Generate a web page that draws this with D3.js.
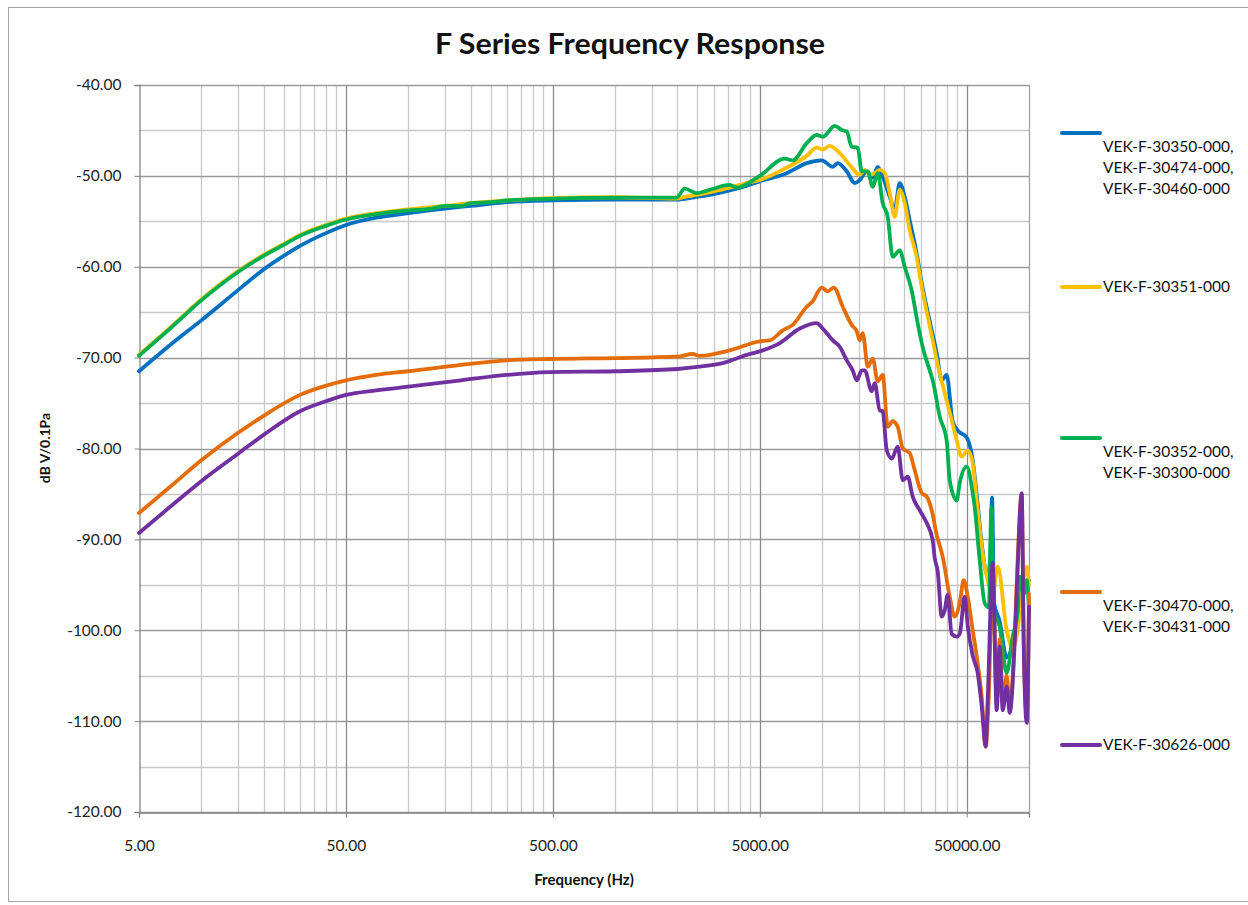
<!DOCTYPE html>
<html><head><meta charset="utf-8">
<script src="https://cdn.jsdelivr.net/npm/d3@7"></script>
<style>body{margin:0;background:#fff}svg{display:block}text{font-family:Lato,"Open Sans",sans-serif}</style>
</head><body>
<script>
const seriesNames = [
  ["VEK-F-30350-000,","VEK-F-30474-000,","VEK-F-30460-000"],
  ["VEK-F-30351-000"],
  ["VEK-F-30352-000,","VEK-F-30300-000"],
  ["VEK-F-30470-000,","VEK-F-30431-000"],
  ["VEK-F-30626-000"]
];
const seriesColors = ["#0070C0","#FFC000","#00B050","#E46C0A","#7030A0"];
const yTicks = [-40,-50,-60,-70,-80,-90,-100,-110,-120];
const xTicks = [5,50,500,5000,50000];

const blue = [[5,-71.5],[7,-68.7],[10,-65.9],[15,-62.6],[20,-60.3],[25,-58.8],[30,-57.7],[40,-56.3],[50,-55.4],[70,-54.6],[100,-54.1],[150,-53.6],[200,-53.3],[300,-52.9],[500,-52.7],[1000,-52.6],[1980,-52.6],[2480,-52.3],[3000,-52.0],[3580,-51.6],[4300,-51.1],[5000,-50.6],[6745,-49.7],[8430,-48.6],[9964,-48.3],[11265,-49.0],[11905,-48.6],[13160,-49.5],[14385,-50.8],[15205,-50.45],[16445,-49.5],[17580,-50.2],[18575,-49.0],[19635,-50.1],[21230,-52.3],[22435,-53.75],[23710,-50.8],[25085,-52.3],[26515,-54.9],[28640,-58.5],[30310,-61.8],[32405,-65.0],[34255,-67.5],[35805,-69.5],[37840,-72.5],[40000,-71.9],[42750,-77.0],[45230,-78.0],[50000,-78.8],[53450,-81.3],[55850,-85.0],[59100,-90.5],[63140,-94.0],[65000,-92.0],[66300,-85.4],[67800,-97.0],[72150,-99.0],[78000,-103.0],[83410,-101.5],[90160,-96.0],[100000,-94.5]];

const yellow = [[5,-69.7],[7,-66.8],[10,-63.6],[15,-60.5],[20,-58.7],[25,-57.5],[30,-56.5],[40,-55.4],[50,-54.7],[70,-54.1],[100,-53.7],[150,-53.3],[200,-53.0],[300,-52.7],[500,-52.45],[1000,-52.35],[1980,-52.5],[2170,-52.3],[2480,-52.1],[3000,-51.7],[3580,-51.3],[4300,-50.8],[5000,-50.45],[6745,-49.1],[8430,-47.8],[9420,-46.9],[10075,-47.1],[10890,-46.7],[12175,-47.5],[13610,-48.8],[15205,-49.9],[16075,-49.35],[17000,-49.9],[17970,-49.7],[18995,-49.35],[20090,-49.7],[21230,-51.9],[22435,-54.5],[23710,-51.55],[25085,-53.0],[26515,-56.0],[28640,-58.9],[30310,-62.2],[32405,-65.5],[34255,-68.1],[35805,-70.3],[39150,-73.9],[42320,-76.9],[44735,-79.1],[47290,-80.9],[50560,-80.2],[53450,-81.6],[55850,-85.7],[59100,-90.8],[63140,-94.5],[66800,-96.0],[70570,-93.0],[78000,-100.0],[83410,-101.9],[88200,-100.0],[92200,-96.0],[97500,-93.0],[100000,-95.0]];

const green = [[5,-69.8],[7,-66.9],[10,-63.7],[15,-60.6],[20,-58.8],[25,-57.6],[30,-56.6],[40,-55.5],[50,-54.8],[70,-54.2],[100,-53.8],[130,-53.6],[150,-53.3],[180,-53.3],[200,-53.0],[250,-52.9],[300,-52.7],[500,-52.5],[1000,-52.4],[1500,-52.4],[1980,-52.4],[2170,-51.4],[2480,-51.9],[2800,-51.6],[3580,-51.0],[3870,-51.3],[5000,-50.0],[6600,-48.1],[7210,-48.3],[8430,-46.4],[9420,-45.5],[10075,-45.7],[11515,-44.5],[12445,-44.95],[13160,-45.1],[13900,-46.8],[14875,-46.9],[15550,-49.5],[16625,-49.5],[17580,-51.2],[18575,-49.7],[19635,-53.0],[20750,-54.5],[21950,-58.9],[23710,-58.2],[25085,-60.0],[27100,-62.6],[28970,-66.2],[30620,-68.8],[33110,-71.4],[34255,-72.5],[37030,-76.5],[40000,-79.1],[41385,-83.5],[44735,-85.7],[46250,-83.8],[50000,-82.0],[53450,-84.9],[54610,-86.4],[57790,-92.3],[61050,-97.0],[64000,-97.5],[65800,-86.5],[67500,-98.0],[72150,-99.6],[78000,-104.7],[83410,-100.7],[88200,-98.0],[90160,-94.1],[94300,-96.0],[97500,-94.5],[100000,-98.0]];

const orange = [[5,-87.1],[7,-84.3],[10,-81.3],[15,-78.3],[20,-76.4],[30,-74.1],[40,-73.1],[50,-72.5],[70,-71.9],[100,-71.5],[180,-70.8],[300,-70.3],[480,-70.15],[1000,-70.05],[2000,-69.9],[2370,-69.6],[2560,-69.8],[3580,-69.2],[5000,-68.2],[5585,-68.1],[6456,-67.0],[7211,-66.4],[8434,-64.4],[9015,-63.8],[9964,-62.3],[10655,-62.7],[11390,-62.3],[12590,-64.4],[13900,-66.4],[14710,-67.1],[15205,-68.1],[15725,-67.3],[16625,-71.0],[17580,-70.1],[18575,-72.6],[19635,-71.9],[20750,-77.6],[21950,-77.0],[23210,-77.6],[24545,-80.0],[26515,-80.5],[28045,-82.4],[30310,-84.9],[32050,-85.3],[33880,-86.8],[35805,-89.5],[38280,-91.9],[41385,-96.3],[43750,-98.5],[46250,-97.0],[48360,-94.5],[50560,-96.3],[53450,-100.0],[56490,-103.6],[59100,-107.3],[61740,-112.8],[63830,-107.7],[66800,-93.5],[69800,-108.0],[72150,-101.0],[74650,-108.0],[78000,-105.0],[80670,-108.5],[85300,-100.5],[88200,-92.0],[92200,-85.0],[94300,-101.0],[97500,-109.5],[100000,-96.0]];

const purple = [[5,-89.3],[7,-86.5],[10,-83.6],[15,-80.6],[20,-78.5],[30,-75.9],[40,-74.8],[50,-74.1],[70,-73.6],[100,-73.2],[180,-72.5],[300,-71.9],[480,-71.6],[1000,-71.5],[2000,-71.25],[2560,-71.0],[3310,-70.6],[4325,-69.7],[5168,-69.2],[6250,-68.4],[7800,-66.8],[9420,-66.2],[10075,-66.8],[11265,-68.1],[12175,-68.8],[13160,-70.3],[14060,-71.4],[14710,-72.5],[15550,-71.4],[16075,-71.4],[17375,-73.7],[17970,-72.8],[18995,-75.8],[19635,-75.9],[20535,-80.2],[21710,-81.1],[23210,-79.8],[24545,-83.5],[25940,-83.1],[27415,-85.3],[29645,-86.8],[32050,-88.2],[34255,-90.1],[34990,-92.0],[36200,-93.5],[37840,-98.5],[39150,-97.8],[40450,-96.1],[42320,-100.4],[44735,-100.7],[46250,-100.4],[48900,-96.3],[50560,-99.5],[53450,-102.8],[56490,-104.7],[59100,-108.4],[61740,-112.8],[63140,-107.7],[66800,-92.6],[69800,-108.8],[72150,-101.8],[74650,-108.8],[78000,-106.2],[80670,-109.1],[85300,-101.4],[88200,-93.0],[92200,-84.9],[94300,-101.8],[97500,-110.2],[100000,-97.4]];

const allSeries = [blue, yellow, green, orange, purple];

const W = 1248, H = 905;
const svg = d3.select("body").append("svg").attr("width", W).attr("height", H);
svg.append("rect").attr("x",8.5).attr("y",7.5).attr("width",W).attr("height",H-11).attr("fill","#fff").attr("stroke","#a6a6a6").attr("stroke-width",1);

const pLeft = 139, pRight = 1029, pTop = 85, pBottom = 812;
const x = d3.scaleLog().domain([5, 100000]).range([pLeft, pRight]);
const y = d3.scaleLinear().domain([-120, -40]).range([pBottom, pTop]);

const minorX = [];
for (let d = 5; d < 100000; d *= 10) for (let k = 2; k <= 9; k++) { const v = d * k; if (v < 100000) minorX.push(v); }
const grid = svg.append("g");
grid.selectAll("line.mx").data(minorX).join("line")
  .attr("x1", d => Math.round(x(d)) + 0.5).attr("x2", d => Math.round(x(d)) + 0.5)
  .attr("y1", pTop).attr("y2", pBottom).attr("stroke", "#c8c8c8").attr("stroke-width", 1.3);
const minorY = d3.range(-115, -40, 10);
grid.selectAll("line.my").data(minorY).join("line")
  .attr("x1", pLeft).attr("x2", pRight)
  .attr("y1", d => Math.round(y(d)) + 0.5).attr("y2", d => Math.round(y(d)) + 0.5)
  .attr("stroke", "#c8c8c8").attr("stroke-width", 1.3);
grid.selectAll("line.My").data(yTicks).join("line")
  .attr("x1", pLeft).attr("x2", pRight)
  .attr("y1", d => Math.round(y(d)) + 0.5).attr("y2", d => Math.round(y(d)) + 0.5)
  .attr("stroke", "#9a9a9a").attr("stroke-width", 1.3);
grid.selectAll("line.Mx").data(xTicks.slice(1)).join("line")
  .attr("x1", d => Math.round(x(d)) + 0.5).attr("x2", d => Math.round(x(d)) + 0.5)
  .attr("y1", pTop).attr("y2", pBottom).attr("stroke", "#8c8c8c").attr("stroke-width", 1.3);
grid.append("line").attr("x1", pRight + 0.5).attr("x2", pRight + 0.5).attr("y1", pTop).attr("y2", pBottom).attr("stroke", "#a0a0a0").attr("stroke-width", 1.3);

const yAxis = d3.axisLeft(y).tickValues(yTicks).tickSize(5).tickFormat(d => d.toFixed(2));
const gy = svg.append("g").attr("transform", `translate(${pLeft + 0.5},0)`).call(yAxis);
gy.select(".domain").attr("stroke", "#868686").attr("stroke-width", 1.3);
gy.selectAll(".tick line").attr("stroke", "#868686");
gy.selectAll(".tick text").attr("font-size", 15.5).attr("fill", "#222").attr("x", -18).attr("font-family", "Lato");

const xAxis = d3.axisBottom(x).tickValues(xTicks).tickSize(5).tickFormat(d => d.toFixed(2));
const gx = svg.append("g").attr("transform", `translate(0,${pBottom + 0.5})`).call(xAxis);
gx.select(".domain").attr("stroke", "#868686").attr("stroke-width", 1.3);
gx.selectAll(".tick line").attr("stroke", "#868686");
gx.selectAll(".tick text").attr("font-size", 15.5).attr("fill", "#222").attr("y", 27).attr("font-family", "Lato");

const line = d3.line().x(d => x(d[0])).y(d => y(d[1])).curve(d3.curveMonotoneX);
svg.append("g").selectAll("path").data(allSeries).join("path")
  .attr("d", line).attr("fill", "none")
  .attr("stroke", (d, i) => seriesColors[i]).attr("stroke-width", 3.8)
  .attr("stroke-linejoin", "round").attr("stroke-linecap", "round");

svg.append("text").attr("x", 630).attr("y", 54).attr("text-anchor", "middle")
  .attr("font-size", 28).attr("font-weight", "bold").attr("fill", "#111")
  .attr("textLength", 390).attr("lengthAdjust", "spacingAndGlyphs").text("F Series Frequency Response");
svg.append("text").attr("x", 584).attr("y", 885).attr("text-anchor", "middle")
  .attr("font-size", 15).attr("font-weight", "bold").attr("fill", "#111").text("Frequency (Hz)");
svg.append("text").attr("transform", "translate(50,448) rotate(-90)").attr("text-anchor", "middle")
  .attr("font-size", 14).attr("font-weight", "bold").attr("fill", "#111").text("dB V/0.1Pa");

const legendY = [133, 287, 438, 592, 745];
const lg = svg.append("g");
seriesNames.forEach((names, i) => {
  const g = lg.append("g");
  g.append("line").attr("x1", 1062).attr("x2", 1100).attr("y1", legendY[i]).attr("y2", legendY[i])
    .attr("stroke", seriesColors[i]).attr("stroke-width", 4).attr("stroke-linecap", "round");
  const multi = names.length > 1;
  names.forEach((t, j) => {
    g.append("text").attr("x", 1103)
      .attr("y", legendY[i] + (multi ? 14 + j * 21 : 0))
      .attr("dy", "0.35em").attr("font-size", 15.5).attr("fill", "#111").text(t);
  });
});
</script>
</body></html>
